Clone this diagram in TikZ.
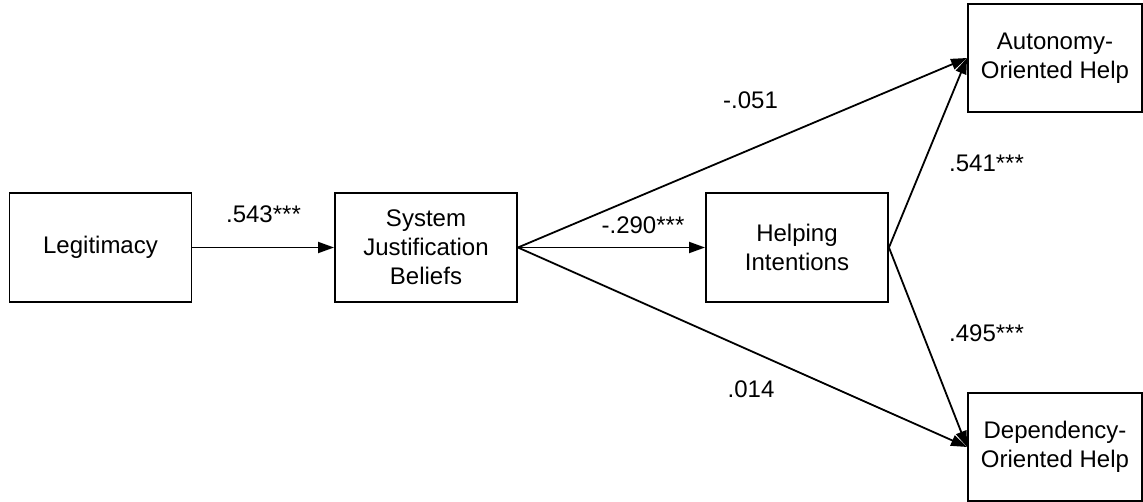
\documentclass[tikz,border=0pt]{standalone}
\usepackage{fontspec}
\setmainfont{Liberation Sans}
\usetikzlibrary{arrows.meta}

\tikzset{
  varbox/.style={draw, line width=1.9pt, minimum width=182pt, minimum height=109pt,
    align=center, inner sep=0pt, font=\fontsize{24}{29}\selectfont},
  outbox/.style={varbox, minimum width=174pt, minimum height=108pt},
  coef/.style={anchor=base, inner sep=0pt, font=\fontsize{24}{29}\selectfont},
  path/.style={line width=1.8pt, -{Triangle[length=16pt,width=11pt]}}
}

\begin{document}
\begin{tikzpicture}[x=1pt, y=-1pt]
    \useasboundingbox (0,0) rectangle (1143,502);

    \node[varbox] (legit) at (100.5, 247.5) {Legitimacy};
    \node[varbox] (sjb) at (426, 247.5) {System\\Justification\\Beliefs};
    \node[varbox] (help) at (797, 247.5) {Helping\\Intentions};
    \node[outbox] (auto) at (1055, 58) {Autonomy-\\Oriented Help};
    \node[outbox] (dep) at (1055, 447) {Dependency-\\Oriented Help};

    \draw[path] (legit) -- (sjb);
    \draw[path] (sjb.east) -- (help.west);
    \draw[path] (sjb.east) -- (auto.west);
    \draw[path] (sjb.east) -- (dep.west);
    \draw[path] (help.east) -- (auto.west);
    \draw[path] (help.east) -- (dep.west);

    \node[coef] (c1) at (263.5, 223) {.543***};
    \node[coef] (c2) at (643, 234) {-.290***};
    \node[coef] (c3) at (750.5, 109) {-.051};
    \node[coef] (c4) at (751, 397) {.014};
    \node[coef] (c5) at (986.5, 172) {.541***};
    \node[coef] (c6) at (986.5, 342) {.495***};
  \end{tikzpicture}
\end{document}
